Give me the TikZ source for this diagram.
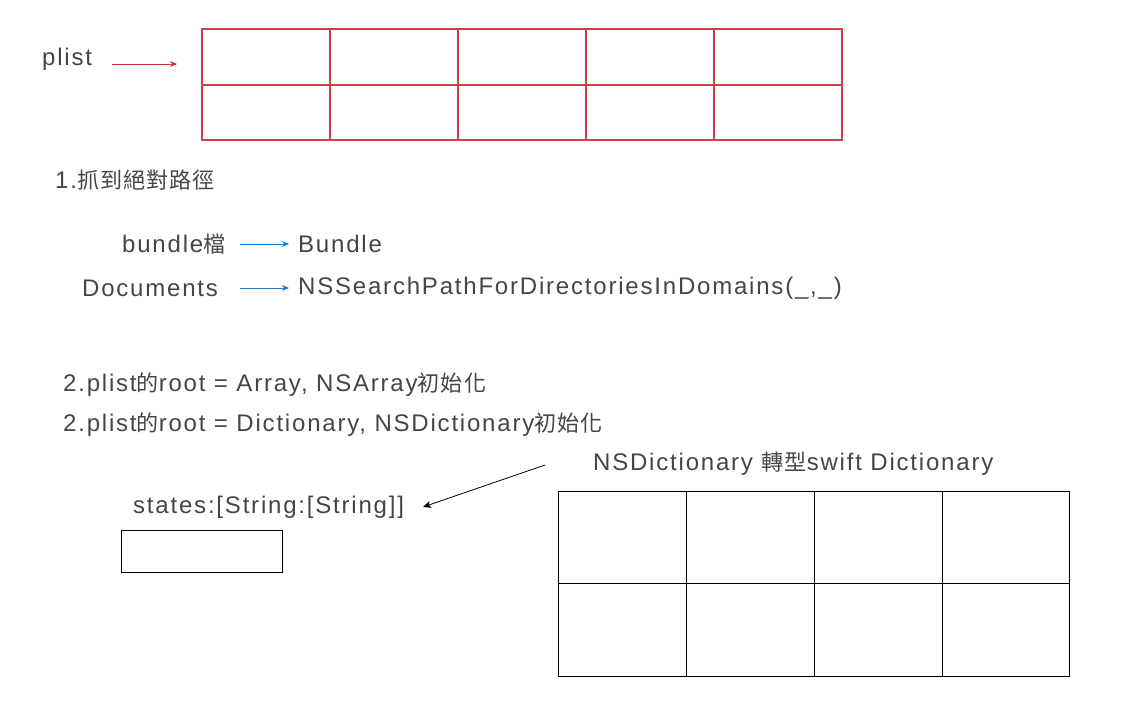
\documentclass[tikz,border=0pt]{standalone}
\usepackage{fontspec}
\setmainfont{Liberation Sans}[LetterSpace=7.5]
\newfontfamily\cjk{Noto Sans CJK TC}[Scale=0.92,LetterSpace=5]
\usetikzlibrary{arrows.meta}
\definecolor{txt}{HTML}{454545}
\definecolor{gridred}{HTML}{D0414B}
\definecolor{arrred}{HTML}{C8323C}
\definecolor{arrblue}{HTML}{1E7BC8}
\tikzset{
  lbl/.style={anchor=west, inner sep=0pt, yshift=-2pt, text=txt, font=\fontsize{24}{28}\selectfont},
  redline/.style={draw=gridred, line width=1.1pt},
  blkline/.style={draw=black, line width=0.8pt},
  redarrow/.style={draw=arrred, line width=0.8pt, -{Stealth[length=7pt,width=6pt]}},
  bluearrow/.style={draw=arrblue, line width=0.8pt, -{Stealth[length=7pt,width=6pt]}},
  blkarrow/.style={draw=black, line width=0.8pt, -{Stealth[length=8pt,width=7pt,inset=2pt]}}
}
\begin{document}
\begin{tikzpicture}[x=1pt,y=-1pt]
\useasboundingbox (0,0) rectangle (1127,714);
% red grid
\draw[redline] (202,29) rectangle (842,140);
\draw[redline] (202,85) -- (842,85);
\foreach \x in {330,458,586,714} \draw[redline] (\x,29) -- (\x,140);
% labels
\node[lbl] (plist) at (42,57) {plist};
\coordinate (pa) at (112,64);
\coordinate (pb) at (177,64);
\draw[redarrow] (pa) -- (pb);
\node[lbl] (step1) at (55,178) {1.{\cjk 抓到絕對路徑}};
\node[lbl] (bundlefile) at (122,242) {bundle{\cjk 檔}};
\node[lbl] (bundle) at (298,242) {Bundle};
\node[lbl] (docs) at (82,286) {Documents};
\node[lbl] (nssearch) at (298,286) {NSSearchPathForDirectoriesInDomains(\_,\_)};
\coordinate (b1) at (240,244);
\coordinate (b2) at (289,244);
\coordinate (d1) at (240,288);
\coordinate (d2) at (289,288);
\draw[bluearrow] (b1) -- (b2);
\draw[bluearrow] (d1) -- (d2);
\node[lbl] (arr) at (63,383) {2.plist{\cjk 的}root = Array, NSArray{\cjk 初始化}};
\node[lbl] (dict) at (63,423) {2.plist{\cjk 的}root = Dictionary, NSDictionary{\cjk 初始化}};
\node[lbl] (conv) at (593,462) {NSDictionary {\cjk 轉型}swift Dictionary};
\node[lbl] (states) at (133,505) {states:[String:[String]]};
\coordinate (k1) at (545,465);
\coordinate (k2) at (423,507);
\draw[blkarrow] (k1) -- (k2);
% small box
\draw[blkline] (121,530) rectangle (282,572);
% black grid
\draw[blkline] (558,491) rectangle (1069,676);
\draw[blkline] (558,583) -- (1069,583);
\foreach \x in {686,814,942} \draw[blkline] (\x,491) -- (\x,676);
\end{tikzpicture}
\end{document}
